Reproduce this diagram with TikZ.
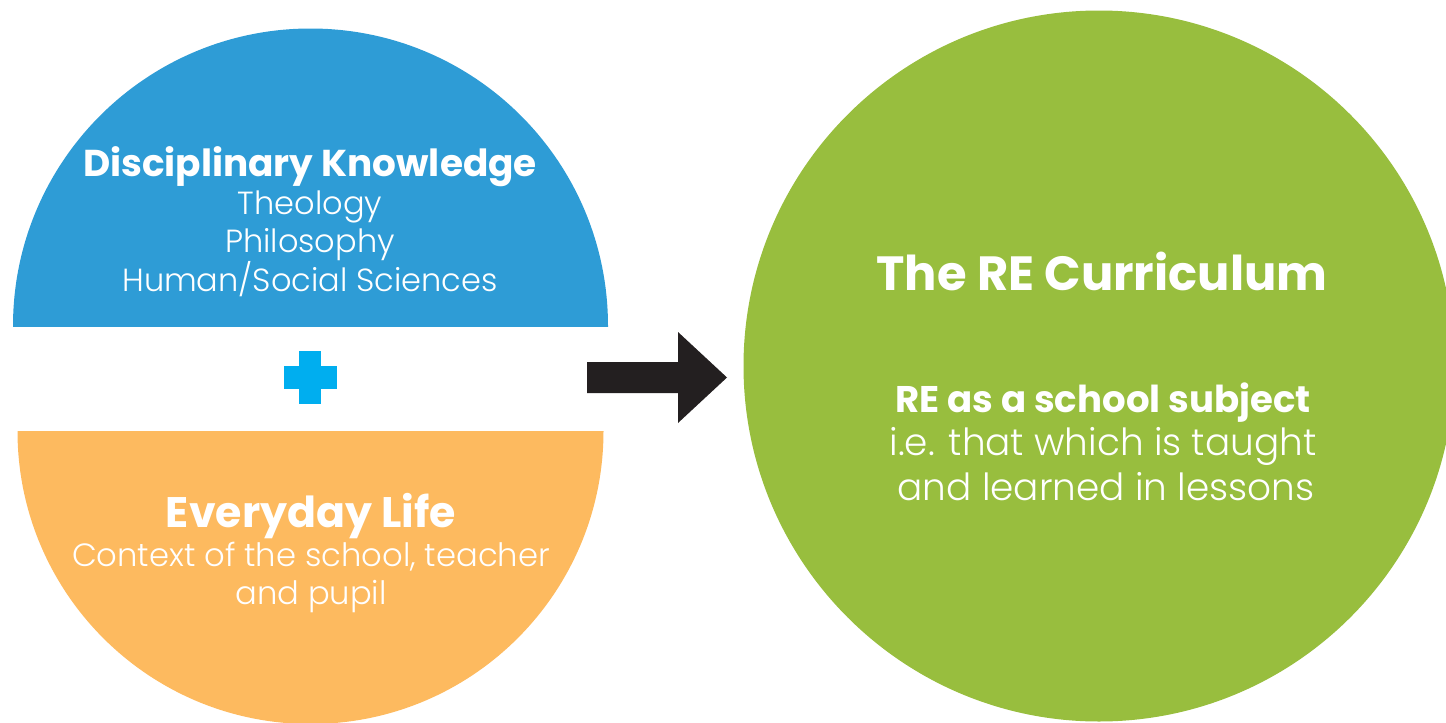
\documentclass[tikz,border=0pt]{standalone}
\usepackage{fontspec}
\setmainfont{Poppins}[UprightFont=* Light, BoldFont=* Bold]
\definecolor{dkblue}{HTML}{2E9CD6}
\definecolor{lifeorange}{HTML}{FDBA5F}
\definecolor{curgreen}{HTML}{98BE3E}
\definecolor{pluscyan}{HTML}{00AEEF}
\definecolor{arrowblack}{HTML}{231F20}
\begin{document}
\begin{tikzpicture}[x=1pt,y=-1pt,
  headtext/.style={text=white,inner sep=0pt,anchor=base,font=\bfseries\fontsize{#1}{#1}\selectfont},
  bodytext/.style={text=white,inner sep=0pt,anchor=base,font=\fontsize{#1}{#1}\selectfont}]
\useasboundingbox (0,0) rectangle (1446,723);
% blue half disc
\begin{scope}
  \clip (0,0) rectangle (1446,326);
  \fill[dkblue] (310.5,326) circle[radius=297.5pt];
\end{scope}
% orange half disc
\begin{scope}
  \clip (0,431) rectangle (1446,723);
  \fill[lifeorange] (310.5,431) circle[radius=293pt];
\end{scope}
% green circle
\fill[curgreen] (1099,366) circle[radius=355.5pt];
% plus
\fill[pluscyan] (299,351) rectangle (321,404);
\fill[pluscyan] (284,366) rectangle (337,389);
% arrow
\coordinate (arrtail) at (587,377.5);
\coordinate (arrtip) at (727,377.5);
\fill[arrowblack] (587,362) -- (678,362) -- (678,332) -- (arrtip) -- (678,423) -- (678,393) -- (587,393) -- cycle;
% texts
\node[headtext=37.4] (dk) at (310,176) {Disciplinary Knowledge};
\node[bodytext=32] (theo) at (310,214) {Theology};
\node[bodytext=32] (phil) at (310,252) {Philosophy};
\node[bodytext=32] (hum) at (310,291) {Human/Social Sciences};
\node[headtext=42.7] (el) at (311,527) {Everyday Life};
\node[bodytext=32.2] (ctx1) at (311,566) {Context of the school, teacher};
\node[bodytext=32.2] (ctx2) at (311,604) {and pupil};
\node[headtext=48] (re) at (1102,290) {The RE Curriculum};
\node[headtext=37.1] (sub) at (1103,412) {RE as a school subject};
\node[bodytext=37.4] (ie1) at (1103,455) {i.e. that which is taught};
\node[bodytext=37.4] (ie2) at (1106,500) {and learned in lessons};
\end{tikzpicture}
\end{document}
